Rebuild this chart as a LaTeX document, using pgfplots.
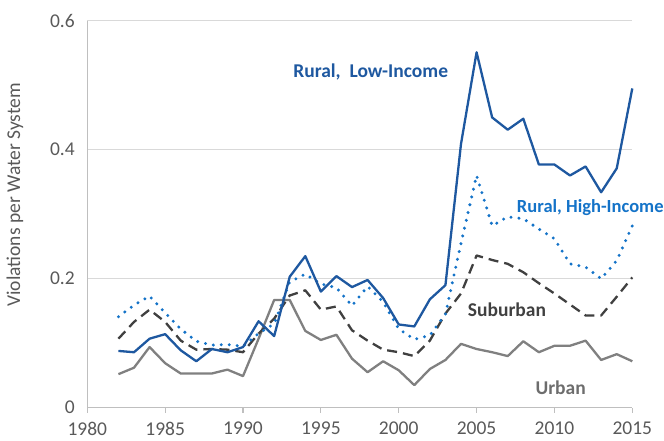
\documentclass[border=0pt]{standalone}
\usepackage{pgfplots}
\pgfplotsset{compat=1.18}
\usepackage{fontspec}
\setmainfont{Carlito}
\definecolor{lowblue}{RGB}{30,88,160}
\definecolor{highblue}{RGB}{20,115,200}
\definecolor{suburb}{RGB}{64,64,64}
\definecolor{urban}{RGB}{128,128,128}
\definecolor{tickgray}{RGB}{89,89,89}
\definecolor{gridgray}{RGB}{217,217,217}
\definecolor{axisgray}{RGB}{191,191,191}
\begin{document}
\begin{tikzpicture}[x=1pt,y=1pt]
\useasboundingbox (-87.3,-33.3) rectangle (576.7,407.7);
\begin{axis}[
  at={(0,0)}, anchor=south west,
  scale only axis, width=545pt, height=387pt,
  xmin=1980, xmax=2015, ymin=0, ymax=0.6,
  axis lines=left,
  every outer x axis line/.append style={-},
  every outer y axis line/.append style={-},
  axis line style={draw=axisgray, line width=1.2pt, -},
  xtick={1980,1985,...,2015},
  ytick={0,0.2,0.4,0.6},
  tick align=outside,
  major tick length=5pt,
  x tick style={draw=axisgray, line width=1.2pt},
  y tick style={draw=none},
  ymajorgrids,
  grid style={draw=gridgray, line width=1.2pt},
  /pgf/number format/assume math mode=true,
  x tick label style={/pgf/number format/1000 sep={}, font=\fontsize{19.5}{22}\selectfont, text=tickgray, yshift=-6pt},
  y tick label style={/pgf/number format/fixed, /pgf/number format/precision=1, font=\fontsize{19.5}{22}\selectfont, text=tickgray, xshift=-4pt},
  ylabel={Violations per Water System},
  every axis y label/.style={at={(axis description cs:-0.1327,0.55)}, rotate=90, anchor=center, font=\fontsize{19.5}{22}\selectfont, text=tickgray},
  clip=false,
  line join=round,
]
% Urban
\addplot[urban, line width=2.3pt] coordinates {
(1982,0.052)(1983,0.062)(1984,0.094)(1985,0.069)(1986,0.053)(1987,0.053)(1988,0.053)(1989,0.059)(1990,0.049)(1991,0.107)(1992,0.167)(1993,0.167)(1994,0.119)(1995,0.105)(1996,0.113)(1997,0.076)(1998,0.055)(1999,0.072)(2000,0.058)(2001,0.035)(2002,0.060)(2003,0.074)(2004,0.099)(2005,0.091)(2006,0.086)(2007,0.080)(2008,0.103)(2009,0.086)(2010,0.096)(2011,0.096)(2012,0.104)(2013,0.074)(2014,0.083)(2015,0.072)};
% Suburban
\addplot[suburb, line width=2.3pt, dash pattern=on 10pt off 6pt] coordinates {
(1982,0.107)(1983,0.133)(1984,0.152)(1985,0.133)(1986,0.104)(1987,0.090)(1988,0.091)(1989,0.090)(1990,0.086)(1991,0.115)(1992,0.138)(1993,0.174)(1994,0.182)(1995,0.152)(1996,0.157)(1997,0.120)(1998,0.104)(1999,0.090)(2000,0.086)(2001,0.080)(2002,0.104)(2003,0.146)(2004,0.177)(2005,0.236)(2006,0.229)(2007,0.223)(2008,0.210)(2009,0.193)(2010,0.177)(2011,0.160)(2012,0.143)(2013,0.143)(2014,0.172)(2015,0.202)};
% Rural High-Income
\addplot[highblue, line width=3.3pt, line cap=round, dash pattern=on 0pt off 8pt] coordinates {
(1982,0.141)(1983,0.159)(1984,0.173)(1985,0.147)(1986,0.122)(1987,0.103)(1988,0.097)(1989,0.098)(1990,0.095)(1991,0.115)(1992,0.130)(1993,0.195)(1994,0.207)(1995,0.192)(1996,0.186)(1997,0.158)(1998,0.188)(1999,0.164)(2000,0.122)(2001,0.106)(2002,0.112)(2003,0.145)(2004,0.255)(2005,0.360)(2006,0.282)(2007,0.296)(2008,0.293)(2009,0.277)(2010,0.262)(2011,0.223)(2012,0.218)(2013,0.200)(2014,0.228)(2015,0.282)};
% Rural Low-Income
\addplot[lowblue, line width=2.3pt] coordinates {
(1982,0.088)(1983,0.086)(1984,0.107)(1985,0.114)(1986,0.089)(1987,0.072)(1988,0.091)(1989,0.086)(1990,0.094)(1991,0.134)(1992,0.111)(1993,0.203)(1994,0.235)(1995,0.180)(1996,0.204)(1997,0.187)(1998,0.198)(1999,0.170)(2000,0.129)(2001,0.126)(2002,0.168)(2003,0.190)(2004,0.409)(2005,0.551)(2006,0.450)(2007,0.431)(2008,0.448)(2009,0.377)(2010,0.377)(2011,0.360)(2012,0.374)(2013,0.334)(2014,0.371)(2015,0.495)};
\node[font=\fontsize{19.5}{22}\selectfont\bfseries, text=lowblue] at (axis cs:1998.2,0.5205) {Rural,\ \ Low-Income};
\node[font=\fontsize{18.5}{22}\selectfont\bfseries, text=highblue] at (axis cs:2012.3,0.3096) {Rural, High-Income};
\node[font=\fontsize{19.5}{22}\selectfont\bfseries, text=suburb] at (axis cs:2006.95,0.1515) {Suburban};
\node[font=\fontsize{19.5}{22}\selectfont\bfseries, text=urban!85!black] at (axis cs:2010.4,0.0305) {Urban};
\end{axis}
\end{tikzpicture}
\end{document}
